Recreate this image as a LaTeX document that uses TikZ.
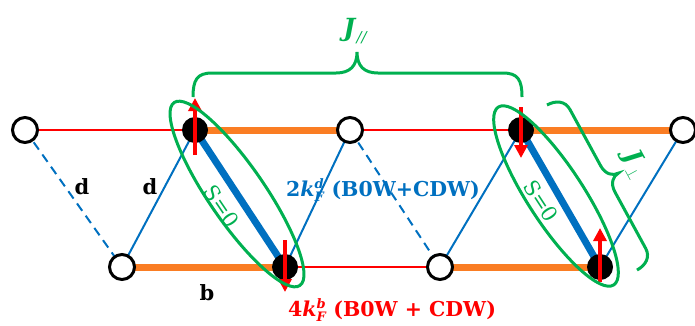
\RequirePackage{fix-cm}
\documentclass[tikz,border=0pt]{standalone}
\usepackage{fontspec}
\setmainfont{DejaVu Serif}
\usetikzlibrary{arrows.meta,backgrounds,calc}
\definecolor{dblue}{RGB}{0,112,192}
\definecolor{mgreen}{RGB}{0,176,80}
\definecolor{morange}{RGB}{250,125,35}
\definecolor{mred}{RGB}{255,0,0}
\newcommand{\kfl}[2]{\textit{k}$_{\mbox{\fontsize{13}{13}\selectfont\itshape #1}}^{\mbox{\fontsize{13}{13}\selectfont\itshape #2}}$}
\begin{document}
\begin{tikzpicture}[x=1pt,y=-1pt,
  opensite/.style={circle,draw=black,line width=3pt,fill=white,minimum size=25pt,inner sep=0pt},
  filledsite/.style={circle,fill=black,minimum size=26pt,inner sep=0pt},
  thinred/.style={mred,line width=2pt},
  thinblue/.style={dblue,line width=2pt},
  dashblue/.style={dblue,line width=2pt,dash pattern=on 9pt off 6pt},
  thickorange/.style={morange,line width=7pt},
  thickblue/.style={dblue,line width=7pt},
  spin/.style={mred,line width=4pt,-{Triangle[width=13pt,length=13pt]}},
  greenline/.style={mgreen,line width=3pt},
  blacklbl/.style={font=\bfseries\fontsize{21}{25}\selectfont},
  kflbl/.style={font=\bfseries\fontsize{20.5}{25}\selectfont},
  szero/.style={text=mgreen,font=\fontsize{21}{25}\selectfont,inner sep=0pt},
  jlbl/.style={text=mgreen,font=\bfseries\fontsize{25}{30}\selectfont,inner sep=0pt}]
\useasboundingbox (0,0) rectangle (695,325);
% sites
\node[opensite] (o1) at (25,130) {};
\node[filledsite] (f1) at (195,130) {};
\node[opensite] (o2) at (350,130) {};
\node[filledsite] (f2) at (521,130) {};
\node[opensite] (o3) at (683,130) {};
\node[opensite] (o4) at (122,267) {};
\node[filledsite] (f3) at (285,267) {};
\node[opensite] (o5) at (440,267) {};
\node[filledsite] (f4) at (600,267) {};
\begin{scope}[on background layer]
  \draw[thinred] (o1.center) -- (f1.center);
  \draw[thickorange] (f1.center) -- (o2.center);
  \draw[thinred] (o2.center) -- (f2.center);
  \draw[thickorange] (f2.center) -- (o3.center);
  \draw[thickorange] (o4.center) -- (f3.center);
  \draw[thinred] (f3.center) -- (o5.center);
  \draw[thickorange] (o5.center) -- (f4.center);
  \draw[dashblue] (o1.center) -- (o4.center);
  \draw[thinblue] (o4.center) -- (f1.center);
  \draw[thickblue] (f1.center) -- (f3.center);
  \draw[thinblue] (f3.center) -- (o2.center);
  \draw[dashblue] (o2.center) -- (o5.center);
  \draw[thinblue] (o5.center) -- (f2.center);
  \draw[thickblue] (f2.center) -- (f4.center);
  \draw[thinblue] (f4.center) -- (o3.center);
\end{scope}
% spins
\draw[spin] ($(f1)+(0,25)$) -- ($(f1)+(0,-32)$);
\draw[spin] ($(f2)+(0,-23)$) -- ($(f2)+(0,28)$);
\draw[spin] ($(f3)+(0,-27)$) -- ($(f3)+(0,25)$);
\draw[spin] ($(f4)+(0,15)$) -- ($(f4)+(0,-39)$);
% singlet ellipses
\draw[greenline,rotate around={-55.5:(237,194)}] (237,194) ellipse (111 and 28);
\draw[greenline,rotate around={-57:(556,196)}] (556,196) ellipse (106 and 28);
\node[szero,rotate=-56] (s1) at (222,206) {S=0};
\node[szero,rotate=-57] (s2) at (541,201) {S=0};
% J parallel brace
\draw[greenline] (193,97) .. controls (193,80) and (197,73) .. (212,73) -- (336,73)
  .. controls (350,73) and (357,66) .. (357,52)
  .. controls (357,66) and (364,73) .. (378,73) -- (503,73)
  .. controls (518,73) and (522,80) .. (522,97);
\node[jlbl] (jpar) at (355,31) {\textit{J}\raisebox{-6pt}{\fontsize{15}{15}\selectfont\itshape\mdseries //}};
% J perp brace
\begin{scope}[shift={(547,105)},rotate=-61.4]
  \draw[greenline] (0,0) .. controls (0,-10) and (5,-18) .. (15,-18) -- (79,-18)
    .. controls (89,-18) and (94,-24) .. (94,-30)
    .. controls (94,-24) and (99,-18) .. (109,-18) -- (173,-18)
    .. controls (183,-18) and (188,-10) .. (188,0);
  \node[jlbl,rotate=-61.4] (jperp) at (94,-49) {\textit{J}\raisebox{-6pt}{\fontsize{16}{16}\selectfont$\perp$}};
\end{scope}
% labels
\node[blacklbl] (ld1) at (82,187) {d};
\node[blacklbl] (ld2) at (150,187) {d};
\node[blacklbl] (lb) at (207,293) {b};
\node[kflbl,text=dblue] (lkd) at (383,190) {2\kfl{F}{d} (B0W+CDW)};
\node[kflbl,text=mred] (lkb) at (392,310) {4\kfl{F}{b} (B0W + CDW)};
\end{tikzpicture}
\end{document}
